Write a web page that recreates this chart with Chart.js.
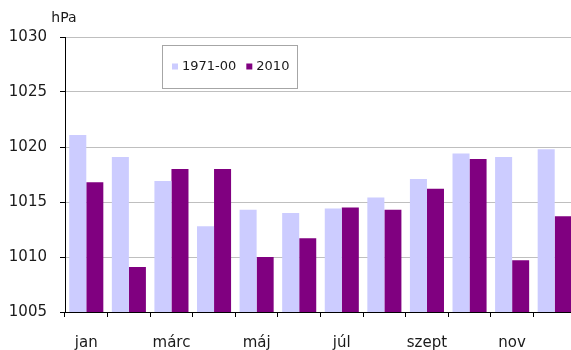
<!DOCTYPE html>
<html>
<head>
<meta charset="utf-8">
<script src="https://cdn.jsdelivr.net/npm/chart.js@4/dist/chart.umd.min.js"></script>
<style>
  html, body { margin: 0; padding: 0; background: #fff; overflow: hidden; }
  #wrap { position: absolute; left: 0; top: 0; width: 580px; height: 350px; }
</style>
</head>
<body>
<div id="wrap"><canvas id="pressureChart" width="580" height="350"></canvas></div>
<script>
const monthLabels = ["jan", "febr", "márc", "ápr", "máj", "jún", "júl", "aug", "szept", "okt", "nov", "dec"];
const seriesNames = ["1971-00", "2010"];
const normalValues = [1021.1, 1019.1, 1016.9, 1012.8, 1014.3, 1014.0, 1014.4, 1015.4, 1017.1, 1019.4, 1019.1, 1019.8];
const year2010Values = [1016.8, 1009.1, 1018.0, 1018.0, 1010.0, 1011.7, 1014.5, 1014.3, 1016.2, 1018.9, 1009.7, 1013.7];
const yTicks = [1005, 1010, 1015, 1020, 1025, 1030];

const FONT = "'DejaVu Sans', Verdana, sans-serif";

// legend box drawn inside the plot, like the spreadsheet original
const boxLegend = {
  id: "boxLegend",
  afterDraw(chart) {
    const ctx = chart.ctx;
    const bx = 162, by = 45, bw = 135, bh = 43;
    ctx.save();
    ctx.fillStyle = "#fff";
    ctx.fillRect(bx, by, bw, bh);
    ctx.strokeStyle = "#a6a6a6";
    ctx.lineWidth = 1;
    ctx.strokeRect(bx + 0.5, by + 0.5, bw, bh);
    ctx.font = `13px ${FONT}`;
    ctx.textBaseline = "middle";
    const cy = by + bh / 2;
    let x = bx + 10;
    chart.data.datasets.forEach((ds) => {
      ctx.fillStyle = ds.backgroundColor;
      ctx.fillRect(x, cy - 3, 6, 6);
      x += 10;
      ctx.fillStyle = "#1a1a1a";
      ctx.fillText(ds.label, x, cy);
      x += ctx.measureText(ds.label).width + 10;
    });
    ctx.restore();
  },
};

// unit label above the value axis
const unitLabel = {
  id: "unitLabel",
  afterDraw(chart) {
    const ctx = chart.ctx;
    ctx.save();
    ctx.font = `14px ${FONT}`;
    ctx.fillStyle = "#1a1a1a";
    ctx.textAlign = "center";
    ctx.textBaseline = "alphabetic";
    ctx.fillText("hPa", chart.chartArea.left - 1, 22);
    ctx.restore();
  },
};

const buildChart = () => {
  new Chart(document.getElementById("pressureChart"), {
    type: "bar",
    data: {
      labels: monthLabels,
      datasets: [
        {
          label: seriesNames[0],
          data: normalValues,
          backgroundColor: "#ccccff",
          borderWidth: 0,
          categoryPercentage: 0.8,
          barPercentage: 1.0,
        },
        {
          label: seriesNames[1],
          data: year2010Values,
          backgroundColor: "#800080",
          borderWidth: 0,
          categoryPercentage: 0.8,
          barPercentage: 1.0,
        },
      ],
    },
    options: {
      responsive: false,
      animation: false,
      layout: { padding: { top: 37, left: 0, right: 4, bottom: 0 } },
      plugins: {
        legend: { display: false },
        tooltip: { enabled: false },
      },
      scales: {
        x: {
          afterFit: (scale) => { scale.height = 38; },
          grid: {
            display: true,
            drawOnChartArea: false,
            drawTicks: true,
            tickLength: 5,
            color: "#000",
            offset: true,
          },
          border: { color: "#000", width: 1 },
          ticks: {
            autoSkip: false,
            maxRotation: 0,
            padding: 17,
            color: "#1a1a1a",
            font: { family: FONT, size: 15 },
            callback: (value, index) => (index % 2 === 0 ? monthLabels[index] : ""),
          },
        },
        y: {
          min: yTicks[0],
          max: yTicks[yTicks.length - 1],
          afterFit: (scale) => { scale.width = 65; },
          afterBuildTicks: (scale) => { scale.ticks = yTicks.map((v) => ({ value: v })); },
          grid: {
            color: "#bfbfbf",
            tickColor: "#000",
            tickLength: 5,
          },
          border: { color: "#000", width: 1 },
          ticks: {
            padding: 13,
            color: "#1a1a1a",
            font: { family: FONT, size: 15 },
            callback: (value) => String(value),
          },
        },
      },
    },
    plugins: [boxLegend, unitLabel],
  });
};

document.fonts.load("15px 'DejaVu Sans'").then(buildChart, buildChart);
</script>
</body>
</html>
